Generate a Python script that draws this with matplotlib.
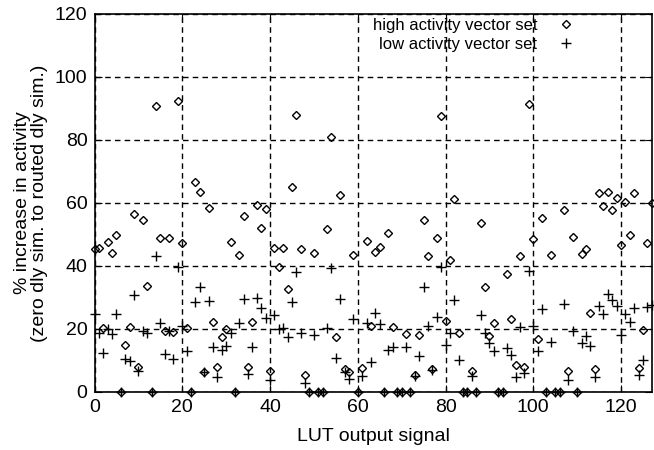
import matplotlib
matplotlib.use("Agg")
import matplotlib.pyplot as plt

# LUT output index 0..127
lut = list(range(128))

# % increase, high activity vector set (diamonds)
high = [45.3, 45.6, 20.2, 47.7, 44.2, 49.8, 0, 15.0, 20.6, 56.6,
        8.0, 54.6, 33.5, 0, 90.7, 49.0, 19.4, 48.9, 19.0, 92.5,
        47.4, 20.4, 0, 66.5, 63.5, 6.3, 58.3, 22.3, 8.0, 17.6,
        20.1, 47.6, 0, 43.6, 55.7, 8.0, 22.3, 59.4, 52.2, 58.0,
        6.8, 45.7, 39.8, 45.7, 32.6, 65.2, 87.9, 45.3, 5.5, 0,
        44.2, 0, 0, 51.6, 81.0, 17.6, 62.4, 7.2, 6.3, 43.6,
        0, 7.6, 47.8, 21.0, 44.4, 46.1, 0, 50.4, 20.7, 0,
        0, 18.4, 0, 5.4, 18.0, 54.6, 43.2, 7.2, 48.9, 87.6,
        22.5, 41.9, 61.4, 18.6, 0, 0, 6.7, 0, 53.5, 33.4,
        17.8, 21.8, 0, 0, 37.6, 23.3, 8.5, 43.2, 8.0, 91.4,
        48.5, 16.7, 55.2, 0, 43.5, 0, 0, 57.9, 6.7, 49.2,
        0, 43.7, 45.3, 25.0, 7.2, 63.1, 58.9, 63.5, 57.7, 61.7,
        46.7, 60.4, 49.8, 63.3, 7.7, 19.7, 47.3, 60.0]

# % increase, low activity vector set (plus signs)
low = [24.7, 18.6, 12.5, 20.0, 18.3, 24.7, 0, 10.6, 9.8, 30.9,
       6.7, 19.4, 18.8, 0, 43.2, 22.0, 12.0, 19.4, 10.4, 39.8,
       21.0, 13.0, 0, 28.4, 33.4, 6.3, 28.8, 14.4, 4.6, 13.3,
       14.6, 18.8, 0, 21.8, 29.6, 5.8, 14.4, 29.8, 26.7, 23.4,
       3.8, 24.3, 20.1, 20.3, 17.6, 28.6, 38.1, 18.8, 3.0, 0,
       18.0, 0, 0, 20.4, 39.2, 10.9, 29.4, 6.3, 4.0, 23.3,
       0, 5.0, 22.0, 9.5, 25.2, 21.5, 0, 13.3, 14.4, 0,
       0, 14.4, 0, 5.0, 11.4, 33.4, 21.0, 7.0, 23.7, 39.6,
       15.0, 18.6, 29.2, 10.0, 0, 0, 5.0, 0, 24.3, 18.6,
       15.4, 13.1, 0, 0, 13.8, 11.7, 4.6, 20.7, 6.1, 38.3,
       21.0, 12.9, 26.2, 0, 15.9, 0, 0, 28.0, 3.8, 19.2,
       0, 15.4, 17.8, 14.6, 4.6, 27.3, 24.7, 31.0, 29.2, 27.3,
       18.1, 24.7, 22.3, 26.6, 5.4, 10.2, 27.0, 27.6]

plt.rcParams['font.family'] = ['Liberation Sans', 'DejaVu Sans']

fig = plt.figure(figsize=(6.54, 4.5), dpi=100)
ax = fig.add_axes([0.1445, 0.129, 0.852, 0.840])

ax.plot(lut, high, linestyle='none', marker='D', markersize=4.2,
        markerfacecolor='none', markeredgecolor='black', markeredgewidth=1.0,
        clip_on=False, label='high activity vector set')
ax.plot(lut, low, linestyle='none', marker='+', markersize=7,
        color='black', markeredgewidth=1.0,
        clip_on=False, label='low activity vector set')

ax.set_xlim(0, 127)
ax.set_ylim(0, 120)
ax.set_xticks(range(0, 121, 20))
ax.set_yticks(range(0, 121, 20))
ax.tick_params(direction='in', top=True, right=True, labelsize=14, length=5, pad=5)
ax.grid(True, color='black', linestyle=(0, (4, 3)), linewidth=1.0)
for s in ax.spines.values():
    s.set_linewidth(1.2)

ax.set_xlabel('LUT output signal', fontsize=14, labelpad=9)
ax.set_ylabel('% increase in activity\n(zero dly sim. to routed dly sim.)',
              fontsize=14, labelpad=5, linespacing=1.0)

leg = ax.legend(loc='upper right', bbox_to_anchor=(0.888, 0.975),
                bbox_transform=fig.transFigure, frameon=False,
                markerfirst=False, fontsize=12, handlelength=1.0,
                handletextpad=1.2, labelspacing=0.25, borderaxespad=0)
for t in leg.get_texts():
    t.set_ha('right')
leg._legend_box.align = 'right'

fig.savefig('out.png', dpi=100)
